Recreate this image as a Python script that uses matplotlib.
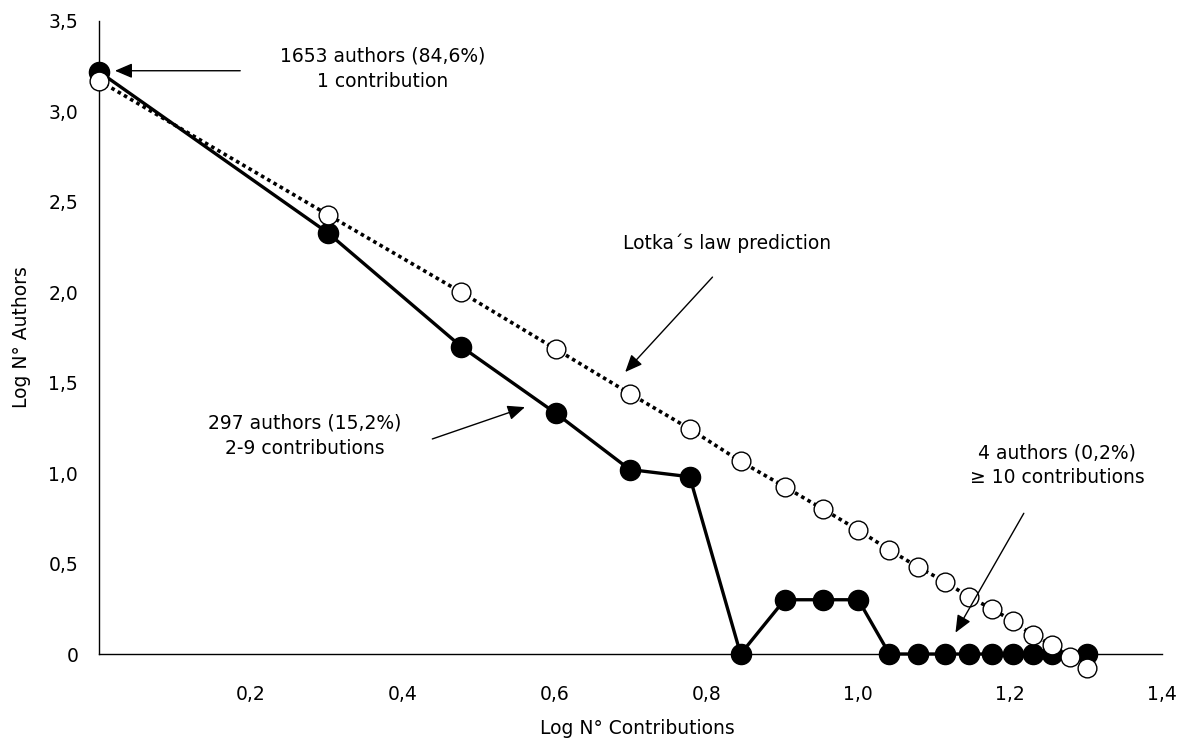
import matplotlib
matplotlib.use("Agg")
import matplotlib.pyplot as plt
from matplotlib.ticker import FixedLocator

plt.rcParams['font.family'] = ['DejaVu Sans']

# Data
x_pred = [0.0, 0.301, 0.477, 0.602, 0.699, 0.778, 0.845, 0.903, 0.954, 1.0,
          1.041, 1.079, 1.114, 1.146, 1.176, 1.204, 1.230, 1.255, 1.279, 1.301]
y_pred = [3.17, 2.43, 2.00, 1.685, 1.44, 1.245, 1.065, 0.925, 0.80, 0.685,
          0.575, 0.48, 0.40, 0.315, 0.25, 0.18, 0.105, 0.05, -0.015, -0.08]
x_obs = [0.0, 0.301, 0.477, 0.602, 0.699, 0.778, 0.845, 0.903, 0.954, 1.0,
         1.041, 1.079, 1.114, 1.146, 1.176, 1.204, 1.230, 1.255, 1.301]
y_obs = [3.22, 2.33, 1.70, 1.33, 1.02, 0.98, 0.0, 0.30, 0.30, 0.30,
         0.0, 0.0, 0.0, 0.0, 0.0, 0.0, 0.0, 0.0, 0.0]

x_ticks = [0.2, 0.4, 0.6, 0.8, 1.0, 1.2, 1.4]
x_ticklabels = ["0,2", "0,4", "0,6", "0,8", "1,0", "1,2", "1,4"]
y_ticks = [0, 0.5, 1.0, 1.5, 2.0, 2.5, 3.0, 3.5]
y_ticklabels = ["0", "0,5", "1,0", "1,5", "2,0", "2,5", "3,0", "3,5"]

W, H = 1182, 740
fig = plt.figure(figsize=(W / 100, H / 100), dpi=100)
ax = fig.add_axes([99 / W, (H - 654) / H, 1063 / W, 633 / H])

FS = 13.5

ax.plot(x_obs, y_obs, color='black', lw=2.4, marker='o', ms=14.5,
        mfc='black', mec='black', clip_on=False, zorder=3)
ax.plot(x_pred, y_pred, color='black', lw=2.6, linestyle=(0, (1, 1)),
        marker='o', ms=13.5, mfc='white', mec='black', mew=1.0,
        clip_on=False, zorder=4)

ax.set_xlim(0, 1.4)
ax.set_ylim(0, 3.5)
for s in ['top', 'right']:
    ax.spines[s].set_visible(False)
for s in ['left', 'bottom']:
    ax.spines[s].set_linewidth(1.0)

ax.set_xticks(x_ticks)
ax.set_xticklabels(x_ticklabels, fontsize=FS)
ax.set_yticks(y_ticks)
ax.set_yticklabels(y_ticklabels, fontsize=FS)
ax.tick_params(axis='x', which='major', length=0, pad=22)
ax.tick_params(axis='y', which='major', length=0, pad=15)
ax.xaxis.set_minor_locator(FixedLocator([1.4]))
ax.yaxis.set_minor_locator(FixedLocator([3.5]))
ax.tick_params(axis='x', which='minor', direction='in', length=6.5, width=1.0)
ax.tick_params(axis='y', which='minor', direction='out', length=10.5, width=1.0)

fig.text(637 / W, 1 - 728 / H, "Log N° Contributions", fontsize=FS,
         ha='center', va='center')
fig.text(22 / W, 1 - 337 / H, "Log N° Authors", fontsize=FS,
         ha='center', va='center', rotation=90)

arrow = dict(arrowstyle='-|>,head_length=0.7,head_width=0.3',
             mutation_scale=15, lw=1.0, color='black', shrinkA=0, shrinkB=0)

ax.text(0.373, 3.237, "1653 authors (84,6%)\n1 contribution", fontsize=FS,
        ha='center', va='center', linespacing=1.4)
ax.annotate("", xy=(0.021, 3.225), xytext=(0.186, 3.225), arrowprops=arrow,
            zorder=6)

ax.text(0.827, 2.272, "Lotka´s law prediction", fontsize=FS,
        ha='center', va='center')
ax.annotate("", xy=(0.693, 1.559), xytext=(0.808, 2.084), arrowprops=arrow,
            zorder=6)

ax.text(0.271, 1.208, "297 authors (15,2%)\n2-9 contributions", fontsize=FS,
        ha='center', va='center', linespacing=1.4)
ax.annotate("", xy=(0.561, 1.365), xytext=(0.439, 1.189), arrowprops=arrow,
            zorder=6)

ax.text(1.262, 1.045, "4 authors (0,2%)\n≥ 10 contributions", fontsize=FS,
        ha='center', va='center', linespacing=1.4)
ax.annotate("", xy=(1.128, 0.118), xytext=(1.218, 0.778), arrowprops=arrow,
            zorder=6)

fig.savefig("out.png", dpi=100)
